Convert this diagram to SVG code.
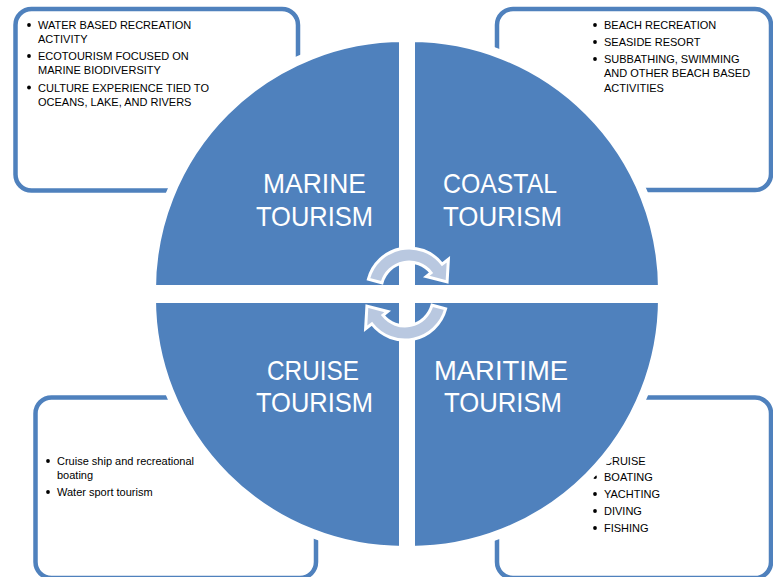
<svg xmlns="http://www.w3.org/2000/svg" width="773" height="577" viewBox="0 0 773 577">
<style>
.box{fill:#ffffff;stroke:#4F81BD;stroke-width:4.5}
.quad{fill:#4F81BD;stroke:#ffffff;stroke-width:9;stroke-linejoin:miter}
.lbl{font-family:"Liberation Sans",Arial,sans-serif;font-size:28px;fill:#ffffff;text-anchor:middle}
.txt{font-family:"Liberation Sans",Arial,sans-serif;font-size:11px;fill:#000000}
.bul{fill:#000000}
.arr{fill:#B9C8E0;stroke:#ffffff;stroke-width:3;stroke-linejoin:miter}
</style>
<defs>
<path id="carrow" d="M -40.6,-10.9 A 42 42 0 0 1 33.1,-25.9 L 39.4,-30.8 L 38.1,-8.1 L 17.3,-13.5 L 22.1,-17.2 A 28 28 0 0 0 -27.0,-7.2 Z"/>
</defs>

<g id="box-marine">
<rect class="box" x="15.5" y="9" width="282.5" height="181.5" rx="16"/>
<circle class="bul" cx="29" cy="25" r="1.9"/>
<text class="txt" x="38" y="29">WATER BASED RECREATION</text>
<text class="txt" x="38" y="43">ACTIVITY</text>
<circle class="bul" cx="29" cy="56" r="1.9"/>
<text class="txt" x="38" y="60">ECOTOURISM FOCUSED ON</text>
<text class="txt" x="38" y="74">MARINE BIODIVERSITY</text>
<circle class="bul" cx="29" cy="87.5" r="1.9"/>
<text class="txt" x="38" y="91.5">CULTURE EXPERIENCE TIED TO</text>
<text class="txt" x="38" y="105.5">OCEANS, LAKE, AND RIVERS</text>
</g>

<g id="box-coastal">
<rect class="box" x="497" y="9" width="274" height="181" rx="16"/>
<circle class="bul" cx="595" cy="25" r="1.9"/>
<text class="txt" x="604" y="29">BEACH RECREATION</text>
<circle class="bul" cx="595" cy="42" r="1.9"/>
<text class="txt" x="604" y="46">SEASIDE RESORT</text>
<circle class="bul" cx="595" cy="59" r="1.9"/>
<text class="txt" x="604" y="63">SUBBATHING, SWIMMING</text>
<text class="txt" x="604" y="77">AND OTHER BEACH BASED</text>
<text class="txt" x="604" y="91.5">ACTIVITIES</text>
</g>

<g id="box-cruise">
<rect class="box" x="35.5" y="397.5" width="280.5" height="180.5" rx="16"/>
<circle class="bul" cx="48" cy="461" r="1.9"/>
<text class="txt" x="57" y="465">Cruise ship and recreational</text>
<text class="txt" x="57" y="479">boating</text>
<circle class="bul" cx="48" cy="492" r="1.9"/>
<text class="txt" x="57" y="496">Water sport tourism</text>
</g>

<g id="box-maritime">
<rect class="box" x="497" y="397.5" width="274" height="180.5" rx="16"/>
<circle class="bul" cx="595" cy="460.5" r="1.9"/>
<text class="txt" x="604" y="464.5">CRUISE</text>
<circle class="bul" cx="595" cy="477" r="1.9"/>
<text class="txt" x="604" y="481">BOATING</text>
<circle class="bul" cx="595" cy="494" r="1.9"/>
<text class="txt" x="604" y="498">YACHTING</text>
<circle class="bul" cx="595" cy="511" r="1.9"/>
<text class="txt" x="604" y="515">DIVING</text>
<circle class="bul" cx="595" cy="528" r="1.9"/>
<text class="txt" x="604" y="532">FISHING</text>
</g>

<g id="marine">
<path class="quad" d="M 403.5,289.5 L 151.5,289.5 A 252 252 0 0 1 403.5,37.5 Z"/>
<text class="lbl" x="314.5" y="193" textLength="103" lengthAdjust="spacingAndGlyphs">MARINE</text>
<text class="lbl" x="314.5" y="226" textLength="117" lengthAdjust="spacingAndGlyphs">TOURISM</text>
</g>

<g id="coastal">
<path class="quad" d="M 410.5,289.5 L 410.5,37.5 A 252 252 0 0 1 662.5,289.5 Z"/>
<text class="lbl" x="500" y="193" textLength="114" lengthAdjust="spacingAndGlyphs">COASTAL</text>
<text class="lbl" x="502.5" y="226" textLength="119" lengthAdjust="spacingAndGlyphs">TOURISM</text>
</g>

<g id="cruise">
<path class="quad" d="M 403.5,298.5 L 403.5,550.5 A 252 252 0 0 1 151.5,298.5 Z"/>
<text class="lbl" x="313" y="380" textLength="92" lengthAdjust="spacingAndGlyphs">CRUISE</text>
<text class="lbl" x="314.5" y="412" textLength="117" lengthAdjust="spacingAndGlyphs">TOURISM</text>
</g>

<g id="maritime">
<path class="quad" d="M 410.5,298.5 L 662.5,298.5 A 252 252 0 0 1 410.5,550.5 Z"/>
<text class="lbl" x="501" y="380" textLength="134" lengthAdjust="spacingAndGlyphs">MARITIME</text>
<text class="lbl" x="503" y="412" textLength="118" lengthAdjust="spacingAndGlyphs">TOURISM</text>
</g>

<g id="connectors">
<use href="#carrow" class="arr" transform="translate(409,290)"/>
<use href="#carrow" class="arr" transform="translate(405,298) rotate(180)"/>
</g>
</svg>
